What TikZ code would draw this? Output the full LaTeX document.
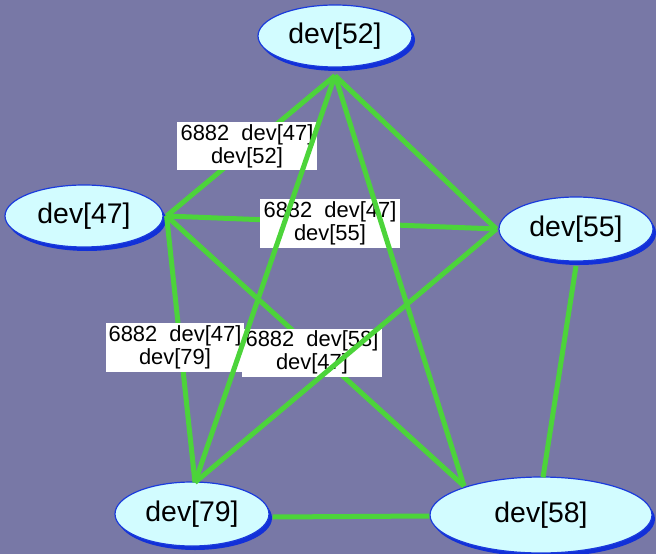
\documentclass[tikz,border=0pt]{standalone}
\usepackage{fontspec}
\setmainfont{Liberation Sans}
\usetikzlibrary{shapes.geometric,shadows}
\definecolor{bgslate}{HTML}{7878A6}
\definecolor{nodefill}{HTML}{D2FCFF}
\definecolor{nodeline}{HTML}{1A3BDC}
\definecolor{nodeshade}{HTML}{1230D8}
\definecolor{linkgreen}{HTML}{4CD43A}
\tikzset{
  devnode/.style={ellipse, draw=nodeline, line width=1.2bp, fill=nodefill,
    inner sep=0pt, font=\fontsize{28.5}{30}\selectfont,
    drop shadow={shadow xshift=3bp, shadow yshift=-4bp, fill=nodeshade, opacity=1}},
  linklabel/.style={rectangle, fill=white, inner sep=0pt, align=center,
    minimum width=140bp, minimum height=48bp, font=\fontsize{22}{23}\selectfont},
  link/.style={draw=linkgreen, line width=5bp}
}
\begin{document}
\begin{tikzpicture}[x=1bp, y=-1bp]
  \fill[bgslate] (0,0) rectangle (656,554);
  \useasboundingbox (0,0) rectangle (656,554);

  % device nodes
  \node[devnode, minimum width=154bp, minimum height=62bp] (n52) at (335,36) {dev[52]};
  \node[devnode, minimum width=158bp, minimum height=62bp] (n47) at (84,216) {dev[47]};
  \node[devnode, minimum width=154bp, minimum height=64bp] (n55) at (576,229) {dev[55]};
  \node[devnode, minimum width=154bp, minimum height=64bp] (n79) at (192,514) {dev[79]};
  \node[devnode, minimum width=222bp, minimum height=76bp] (n58) at (541,515) {dev[58]};

  % connection points on the node rims
  \coordinate (p52) at ([yshift=-8bp]n52.south);
  \coordinate (p47) at ([xshift=3bp]n47.east);
  \coordinate (p55) at ([xshift=-2bp]n55.west);
  \coordinate (p79) at ([xshift=3bp,yshift=-1bp]n79.north);
  \coordinate (p58a) at (464,486);
  \coordinate (p58b) at ([xshift=2bp,yshift=-1bp]n58.north);
  \coordinate (p58c) at ([yshift=-1bp]n58.west);
  \coordinate (p55b) at (576,266);
  \coordinate (p79b) at ([xshift=3bp,yshift=-3bp]n79.east);

  % labelled links, each covered by its own label
  \draw[link] (p52) -- (p47);
  \draw[link] (p47) -- (p55);
  \draw[link] (p47) -- (p79);
  \draw[link] (p47) -- (p58a);
  \node[linklabel] (l1) at (247,146) {6882\ \ dev[47]\\dev[52]};
  \node[linklabel] (l2) at (330,223.5) {6882\ \ dev[47]\\dev[55]};
  \node[linklabel, minimum width=138bp, minimum height=49bp] (l3) at (175,347.5) {6882\ \ dev[47]\\dev[79]};
  \node[linklabel] (l4) at (312,352.5) {6882\ \ dev[58]\\dev[47]};

  % remaining links
  \draw[link] (p52) -- (p79);
  \draw[link] (p52) -- (p55);
  \draw[link] (p52) -- (p58a);
  \draw[link] (p55) -- (p79);
  \draw[link] (p55b) -- (p58b);
  \draw[link] (p79b) -- (p58c);
\end{tikzpicture}
\end{document}
